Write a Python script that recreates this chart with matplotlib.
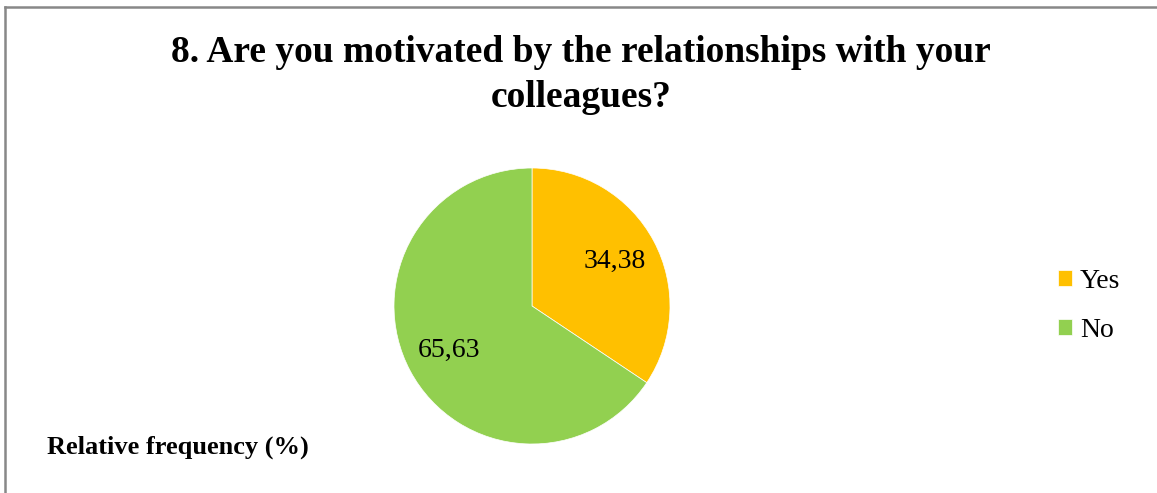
import matplotlib
matplotlib.use("Agg")
import matplotlib.pyplot as plt
import numpy as np
from matplotlib.lines import Line2D

categories = ["Yes", "No"]
values = [34.38, 65.63]
value_labels = ["34,38", "65,63"]
colors = ["#FFC000", "#92D050"]
title = "8. Are you motivated by the relationships with your\ncolleagues?"
footnote = "Relative frequency (%)"

plt.rcParams['font.family'] = ['Liberation Serif', 'DejaVu Serif']

W, H = 1157, 493
fig = plt.figure(figsize=(W / 100, H / 100), dpi=100)
fig.patch.set_facecolor("white")

cx, cy, r = 532, 306, 138
ax = fig.add_axes([(cx - r) / W, (H - cy - r) / H, 2 * r / W, 2 * r / H])
wedges, _ = ax.pie(values, colors=colors, startangle=90, counterclock=False,
                   radius=1.0, wedgeprops=dict(linewidth=0.5, edgecolor="white"))
ax.set_xlim(-1, 1)
ax.set_ylim(-1, 1)
ax.set_aspect("equal")
ax.axis("off")

for w, lab in zip(wedges, value_labels):
    ang = np.deg2rad((w.theta1 + w.theta2) / 2)
    d = 0.68
    ax.text(d * np.cos(ang), d * np.sin(ang), lab, ha="center", va="center",
            fontsize=20, color="black")

fig.text(581 / W, 1 - 75 / H, title, ha="center", va="center", fontsize=27,
         fontweight="bold", linespacing=1.4)
fig.text(47 / W, 1 - 447 / H, footnote, ha="left", va="center", fontsize=19,
         fontweight="bold")

leg = fig.legend(wedges, categories, loc="center left",
                 bbox_to_anchor=(1044 / W, 1 - 306 / H), frameon=False,
                 fontsize=20, handlelength=0.5, handleheight=0.5,
                 handletextpad=0.3, labelspacing=0.85, borderpad=0)

# border lines (top and left)
fig.add_artist(Line2D([5.5 / W, 1], [1 - 6.5 / H, 1 - 6.5 / H], color="#888888", lw=1.8,
                      transform=fig.transFigure))
fig.add_artist(Line2D([5.5 / W, 5.5 / W], [0, 1 - 6.5 / H], color="#888888", lw=1.8,
                      transform=fig.transFigure))

fig.savefig("out.png", dpi=100, facecolor="white")
